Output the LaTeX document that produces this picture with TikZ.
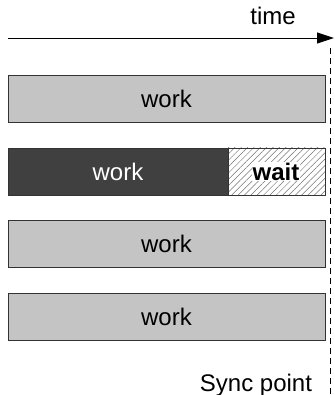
\documentclass[tikz,border=0pt]{standalone}
\usepackage{fontspec}
\setmainfont{Liberation Sans}
\usetikzlibrary{patterns.meta,arrows.meta}
\definecolor{barfill}{HTML}{C4C4C4}
\definecolor{darkfill}{HTML}{404040}
\tikzset{
  bar/.style={draw=black!80, line width=0.9pt, fill=barfill},
  darkbar/.style={draw=black!80, line width=0.9pt, fill=darkfill},
  waitbar/.style={draw=black!80, line width=0.9pt,
    pattern={Lines[angle=45, distance=4.5pt, line width=0.5pt]}, pattern color=black!55},
  lbl/.style={font=\fontsize{24}{28}\selectfont, text=black},
}
\begin{document}
\begin{tikzpicture}[x=1pt, y=-1pt]
  \useasboundingbox (0,0) rectangle (334,395);
  % time axis
  \coordinate (t0) at (8,38);
  \coordinate (t1) at (334,38);
  \draw[line width=0.9pt, -{Triangle[length=17pt, width=11pt]}] (t0) -- (t1);
  \node[lbl, anchor=base] (time) at (273,25) {time};
  % sync line
  \coordinate (s0) at (330,48);
  \coordinate (s1) at (330,395);
  \draw[line width=0.9pt, dash pattern=on 6pt off 4pt] (s0) -- (s1);
  % bars
  \path[bar] (8,75) rectangle (325,122);
  \node[lbl] (w1) at (166.5,98.5) {work};
  \path[darkbar] (8,148) rectangle (228,195);
  \node[lbl, text=white] (w2) at (118,171.5) {work};
  \path[waitbar] (228,148) rectangle (325,195);
  \node[lbl, font=\fontsize{24}{28}\selectfont\bfseries, fill=white, inner sep=1pt] (wt) at (276,171.5) {wait};
  \path[bar] (8,220) rectangle (325,267);
  \node[lbl] (w3) at (166.5,243.5) {work};
  \path[bar] (8,293) rectangle (325,340);
  \node[lbl] (w4) at (166.5,316.5) {work};
  \node[lbl, anchor=base] (sync) at (256,391) {Sync point};
\end{tikzpicture}
\end{document}
